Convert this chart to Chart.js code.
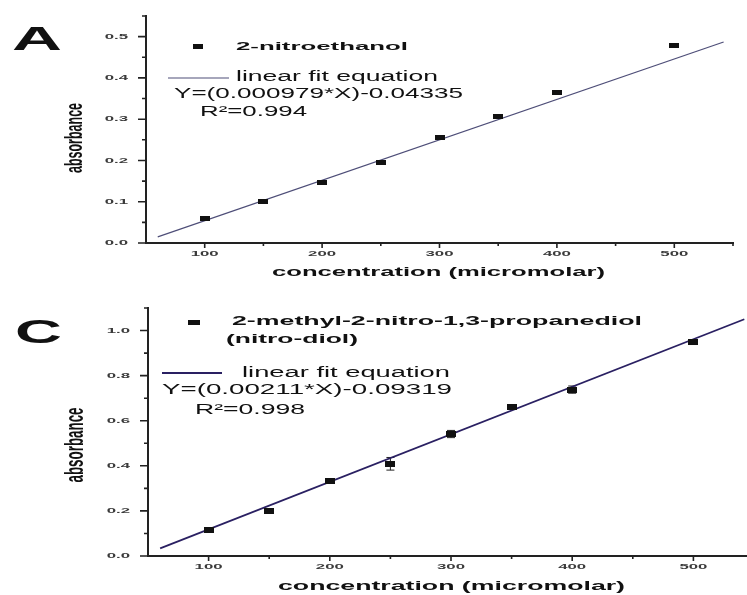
<!DOCTYPE html>
<html>
<head>
<meta charset="utf-8">
<script src="https://cdn.jsdelivr.net/npm/chart.js@4"></script>
<style>
  html, body { margin: 0; padding: 0; background: #fff; overflow: hidden; }
  #wrap { position: relative; width: 747px; height: 595px; overflow: hidden; }
  #cA { position: absolute; left: 0; top: 0; }
  #cC { position: absolute; left: 0; top: 290px; }
</style>
</head>
<body>
<div id="wrap">
  <canvas id="cA" width="747" height="290"></canvas>
  <canvas id="cC" width="760" height="305"></canvas>
</div>
<script>
// panel A: 2-nitroethanol
const concA = [100, 150, 200, 250, 300, 350, 400, 500];
const absA = [0.059, 0.100, 0.146, 0.194, 0.255, 0.306, 0.364, 0.478];
const fitAx = [60, 542];
const fitAy = [0.015, 0.487];

// panel C: nitro-diol
const concC = [100, 150, 200, 250, 300, 350, 400, 500];
const absC = [0.116, 0.201, 0.333, 0.409, 0.541, 0.661, 0.738, 0.948];
const errC = [0.006, 0.006, 0.005, 0.028, 0.016, 0.010, 0.016, 0.010];
const fitCx = [60, 542];
const fitCy = [0.034, 1.05];

// ticks
const xTicks = [100, 200, 300, 400, 500];
const xMinor = [150, 250, 350, 450, 550];
const yTicksA = [0.0, 0.1, 0.2, 0.3, 0.4, 0.5];
const yMinorA = [0.05, 0.15, 0.25, 0.35, 0.45, 0.55];
const yTicksC = [0.0, 0.2, 0.4, 0.6, 0.8, 1.0];
const yMinorC = [0.1, 0.3, 0.5, 0.7, 0.9, 1.1];

const FONT = '"Liberation Sans", Arial, sans-serif';

function marker(w, h) {
  const c = document.createElement('canvas');
  c.width = w; c.height = h;
  const g = c.getContext('2d');
  g.fillStyle = '#111';
  g.fillRect(0, 0, w, h);
  return c;
}

// text is stretched sideways like in the scanned figure
function drawText(ctx, s, x, y, o) {
  ctx.save();
  ctx.font = o.font;
  ctx.fillStyle = o.color || '#111';
  ctx.textBaseline = 'middle';
  ctx.textAlign = 'left';
  const m = ctx.measureText(s).width;
  const sx = o.w ? o.w / m : (o.sx || 1);
  ctx.translate(x, y);
  if (o.rot) ctx.rotate(-Math.PI / 2);
  ctx.scale(sx, o.sy || 1);
  const off = o.align === 'center' ? -m / 2 : o.align === 'right' ? -m : 0;
  ctx.fillText(s, off, 0);
  ctx.restore();
}

function axisTicks(chart, yMajor, yMinor, yDigits) {
  const ctx = chart.ctx;
  const xs = chart.scales.x, ys = chart.scales.y;
  const left = chart.chartArea.left, bottom = chart.chartArea.bottom;
  ctx.save();
  ctx.strokeStyle = '#222';
  ctx.lineWidth = 1.6;
  ctx.beginPath();
  yMajor.forEach(v => { const p = ys.getPixelForValue(v); ctx.moveTo(left - 8, p); ctx.lineTo(left, p); });
  yMinor.forEach(v => { const p = ys.getPixelForValue(v); ctx.moveTo(left - 4, p); ctx.lineTo(left, p); });
  xTicks.forEach(v => { const p = xs.getPixelForValue(v); ctx.moveTo(p, bottom); ctx.lineTo(p, bottom + 5); });
  xMinor.forEach(v => { const p = xs.getPixelForValue(v); ctx.moveTo(p, bottom); ctx.lineTo(p, bottom + 3); });
  ctx.stroke();
  ctx.restore();
  yMajor.forEach(v => {
    drawText(ctx, v.toFixed(yDigits), left - 18, ys.getPixelForValue(v),
      { font: 'bold 8px ' + FONT, sx: 2.1, align: 'right', color: '#3a3a3a' });
  });
  xTicks.forEach(v => {
    drawText(ctx, String(v), xs.getPixelForValue(v), bottom + 11,
      { font: 'bold 8px ' + FONT, sx: 2.1, align: 'center', color: '#3a3a3a' });
  });
}

function makeChart(id, o) {
  const pts = o.xs.map((x, i) => ({ x: x, y: o.ys[i] }));
  const fit = o.fx.map((x, i) => ({ x: x, y: o.fy[i] }));
  return new Chart(document.getElementById(id), {
    type: 'scatter',
    data: {
      datasets: [
        {
          label: 'data',
          data: pts,
          pointStyle: marker(o.mw, o.mh),
          pointRadius: 5,
          pointHoverRadius: 5
        },
        {
          label: 'fit',
          data: fit,
          showLine: true,
          borderColor: o.lineColor,
          borderWidth: o.lineWidth,
          pointRadius: 0
        }
      ]
    },
    options: {
      responsive: false,
      animation: false,
      devicePixelRatio: 1,
      layout: { padding: { top: o.top, right: o.right, left: 0, bottom: 0 } },
      plugins: { legend: { display: false }, tooltip: { enabled: false } },
      scales: {
        x: {
          type: 'linear', min: 50, max: 550,
          grid: { display: false },
          ticks: { display: false },
          border: { display: true, color: '#222', width: 2 },
          afterFit: s => { s.height = o.xh; }
        },
        y: {
          type: 'linear', min: 0, max: o.ymax,
          grid: { display: false },
          ticks: { display: false },
          border: { display: true, color: '#222', width: 2 },
          afterFit: s => { s.width = o.yw; }
        }
      }
    },
    plugins: [{
      id: 'decor',
      beforeDatasetsDraw(chart) {
        if (!o.err) return;
        const ctx = chart.ctx, xs = chart.scales.x, ys = chart.scales.y;
        ctx.save();
        ctx.strokeStyle = '#222';
        ctx.lineWidth = 1;
        ctx.beginPath();
        o.xs.forEach((x, i) => {
          const px = xs.getPixelForValue(x);
          const t = ys.getPixelForValue(o.ys[i] + o.err[i]);
          const b = ys.getPixelForValue(o.ys[i] - o.err[i]);
          ctx.moveTo(px, t); ctx.lineTo(px, b);
          ctx.moveTo(px - 4, t); ctx.lineTo(px + 4, t);
          ctx.moveTo(px - 4, b); ctx.lineTo(px + 4, b);
        });
        ctx.stroke();
        ctx.restore();
      },
      afterDraw(chart) {
        axisTicks(chart, o.yMajor, o.yMinor, 1);
        o.decorate(chart.ctx);
      }
    }]
  });
}

makeChart('cA', {
  xs: concA, ys: absA, fx: fitAx, fy: fitAy,
  ymax: 0.55, top: 16, right: 14, xh: 47, yw: 146,
  mw: 10, mh: 5, lineColor: '#4e4e78', lineWidth: 1.2,
  yMajor: yTicksA, yMinor: yMinorA,
  decorate(ctx) {
    drawText(ctx, 'A', 12, 41, { font: 'bold 34px ' + FONT, w: 50 });
    ctx.drawImage(marker(10, 5), 193, 44);
    drawText(ctx, '2-nitroethanol', 236, 47, { font: 'bold 11px ' + FONT, w: 172 });
    ctx.save();
    ctx.strokeStyle = '#4e4e78'; ctx.lineWidth = 1.2;
    ctx.beginPath(); ctx.moveTo(168, 78); ctx.lineTo(229, 78); ctx.stroke();
    ctx.restore();
    drawText(ctx, 'linear fit equation', 236, 77, { font: '14px ' + FONT, w: 202 });
    drawText(ctx, 'Y=(0.000979*X)-0.04335', 174, 94, { font: '14px ' + FONT, w: 289 });
    drawText(ctx, 'R\u00b2=0.994', 200, 112, { font: '14px ' + FONT, w: 107 });
    drawText(ctx, 'concentration (micromolar)', 272, 273, { font: 'bold 12px ' + FONT, w: 333 });
    drawText(ctx, 'absorbance', 75, 138, { font: 'bold 12px ' + FONT, w: 70, sy: 2, rot: true, align: 'center' });
  }
});

makeChart('cC', {
  xs: concC, ys: absC, err: errC, fx: fitCx, fy: fitCy,
  ymax: 1.1, top: 18, right: 3, xh: 39, yw: 148,
  mw: 10, mh: 6, lineColor: '#2a2062', lineWidth: 1.8,
  yMajor: yTicksC, yMinor: yMinorC,
  decorate(ctx) {
    drawText(ctx, 'C', 15, 44, { font: 'bold 33px ' + FONT, w: 47 });
    ctx.drawImage(marker(12, 5), 188, 30);
    drawText(ctx, '2-methyl-2-nitro-1,3-propanediol', 232, 32, { font: 'bold 12px ' + FONT, w: 410 });
    drawText(ctx, '(nitro-diol)', 226, 50, { font: 'bold 12px ' + FONT, w: 132 });
    ctx.save();
    ctx.strokeStyle = '#2a2062'; ctx.lineWidth = 1.8;
    ctx.beginPath(); ctx.moveTo(162, 83); ctx.lineTo(222, 83); ctx.stroke();
    ctx.restore();
    drawText(ctx, 'linear fit equation', 242, 83, { font: '14px ' + FONT, w: 208 });
    drawText(ctx, 'Y=(0.00211*X)-0.09319', 162, 100, { font: '14px ' + FONT, w: 290 });
    drawText(ctx, 'R\u00b2=0.998', 195, 120, { font: '14px ' + FONT, w: 110 });
    drawText(ctx, 'concentration (micromolar)', 278, 297, { font: 'bold 12px ' + FONT, w: 347 });
    drawText(ctx, 'absorbance', 76, 155, { font: 'bold 12px ' + FONT, w: 75, sy: 2.1, rot: true, align: 'center' });
  }
});
</script>
</body>
</html>
